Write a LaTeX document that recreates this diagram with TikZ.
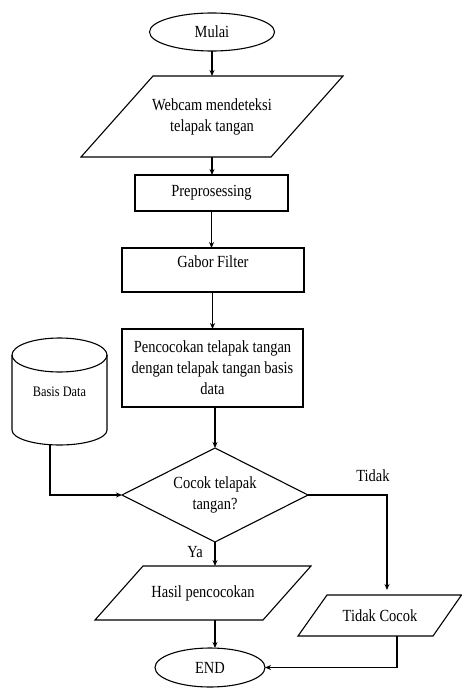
\documentclass[tikz,border=0pt]{standalone}
\usepackage{fontspec}
\setmainfont{Liberation Serif}[FakeStretch=0.85]
\usetikzlibrary{shapes.geometric,arrows.meta}
\begin{document}
\begin{tikzpicture}[x=1pt,y=-1pt, line width=1.1pt,
  every node/.style={font=\fontsize{17}{21}\selectfont, inner sep=0pt, outer sep=0pt},
  term/.style={ellipse, draw},
  proc/.style={rectangle, draw, align=center},
  iobox/.style={rectangle, align=center},
  decision/.style={diamond, draw, aspect=2, align=center},
  lbl/.style={font=\fontsize{17}{21}\selectfont},
  arr/.style={-{Stealth[length=6pt,width=5pt]}}]
\useasboundingbox (0,0) rectangle (462,690);

% nodes
\node[term, minimum width=125pt, minimum height=38pt] (mulai) at (212,32) {Mulai};
\node[iobox, minimum width=190pt, minimum height=81pt] (web) at (212,116.5) {Webcam mendeteksi\\telapak tangan};
\draw ([xshift=36pt]web.north west) -- ([xshift=36pt]web.north east) -- ([xshift=-36pt]web.south east) -- ([xshift=-36pt]web.south west) -- cycle;
\node[proc, minimum width=153pt, minimum height=36pt] (prep) at (211.5,193) {Preprosessing};
\node[proc, minimum width=182pt, minimum height=44pt] (gabor) at (213,270) {\raisebox{16pt}{Gabor Filter}};
\node[proc, minimum width=181pt, minimum height=78pt] (penc) at (212.5,368) {Pencocokan telapak tangan\\dengan telapak tangan basis\\data};

% database cylinder
\node[minimum width=95pt, minimum height=107pt, font=\fontsize{14.5}{18}\selectfont] (db) at (59.5,391.5) {Basis Data};
\draw (12,355) -- (12,430) arc[start angle=180, end angle=360, x radius=47.5pt, y radius=15pt] -- (107,355);
\draw (59.5,355) ellipse[x radius=47.5pt, y radius=17pt];

\node[decision, minimum width=186pt, minimum height=94pt] (dec) at (215,495) {Cocok telapak\\tangan?};

\node[iobox, minimum width=168pt, minimum height=54pt] (hasil) at (203,593) {Hasil pencocokan};
\draw ([xshift=24pt]hasil.north west) -- ([xshift=24pt]hasil.north east) -- ([xshift=-24pt]hasil.south east) -- ([xshift=-24pt]hasil.south west) -- cycle;

\node[iobox, minimum width=135pt, minimum height=41pt] (tc) at (380,615.5) {Tidak Cocok};
\draw ([xshift=14.5pt]tc.north west) -- ([xshift=14pt]tc.north east) -- ([xshift=-14.5pt]tc.south east) -- ([xshift=-14.5pt]tc.south west) -- cycle;

\node[term, minimum width=110pt, minimum height=39pt] (endn) at (210,667.5) {END};

\node[lbl] (tidak) at (373,476) {Tidak};
\node[lbl] (ya) at (195,552) {Ya};

% connectors
\draw[arr] (mulai.south) -- (mulai.south |- web.north);
\draw[arr] (web.south) -- (web.south |- prep.north);
\draw[arr] (prep.south) -- (prep.south |- gabor.north);
\draw[arr] (gabor.south -| penc.north) -- (penc.north);
\draw[arr] (dec.north |- penc.south) -- (dec.north);
\draw[arr] ([xshift=-9.5pt]db.south) |- (dec.west);
\draw[arr] (dec.east) -| ([xshift=7pt,yshift=5pt]tc.north);
\draw[arr] (dec.south) -- (dec.south |- hasil.north);
\draw[arr] (dec.south |- hasil.south) -- (dec.south |- endn.north);
\draw[arr] ([xshift=17pt]tc.south) |- (endn.east);
\end{tikzpicture}
\end{document}
